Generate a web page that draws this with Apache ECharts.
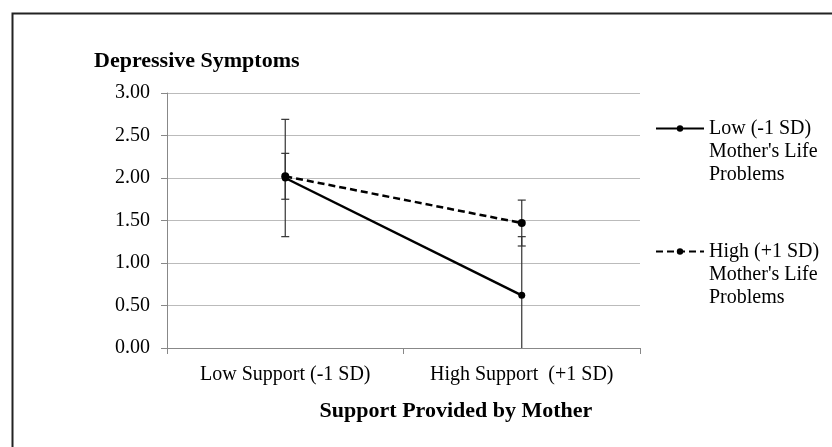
<!DOCTYPE html>
<html>
<head>
<meta charset="utf-8">
<script src="https://cdn.jsdelivr.net/npm/echarts@6/dist/echarts.min.js"></script>
<style>
html,body{margin:0;padding:0;background:#fff;}
#chart{width:832px;height:447px;}
</style>
</head>
<body>
<div id="chart"></div>
<script>
// ---- data ----
const categories = ['Low Support (-1 SD)', 'High Support  (+1 SD)'];
const seriesNames = ["Low (-1 SD)\nMother's Life\nProblems", "High (+1 SD)\nMother's Life\nProblems"];
const lowProblems = [2.00, 0.62];
const highProblems = [2.02, 1.47];
const lowProblemsErr = [0.69, 0.69];
const highProblemsErr = [0.27, 0.27];
const yTicks = [0, 0.5, 1, 1.5, 2, 2.5, 3];

const FONT = '"Liberation Serif", "Times New Roman", serif';

function errData(vals, errs) {
  return vals.map((v, i) => [i, v - errs[i], v + errs[i]]);
}

function errRender(params, api) {
  const xi = api.value(0);
  const lo = Math.max(api.value(1), yTicks[0]);
  const hi = api.value(2);
  const pLo = api.coord([xi, lo]);
  const pHi = api.coord([xi, hi]);
  const half = 4;
  const style = { stroke: '#333', lineWidth: 1.2 };
  const children = [
    { type: 'line', shape: { x1: pHi[0], y1: pHi[1], x2: pLo[0], y2: pLo[1] }, style },
    { type: 'line', shape: { x1: pHi[0] - half, y1: pHi[1], x2: pHi[0] + half, y2: pHi[1] }, style }
  ];
  if (api.value(1) >= yTicks[0]) {
    children.push({ type: 'line', shape: { x1: pLo[0] - half, y1: pLo[1], x2: pLo[0] + half, y2: pLo[1] }, style });
  }
  return { type: 'group', children };
}

const chart = echarts.init(document.getElementById('chart'));
chart.setOption({
  animation: false,
  backgroundColor: '#fff',
  textStyle: { fontFamily: FONT, color: '#000' },
  title: {
    text: 'Depressive Symptoms',
    left: 94, top: 50,
    padding: 0,
    textStyle: { fontFamily: FONT, fontWeight: 'bold', fontSize: 22, color: '#000', lineHeight: 22 }
  },
  graphic: [{
    type: 'rect', left: 10, top: 11, silent: true,
    shape: { width: 840, height: 460 },
    style: { fill: 'none', stroke: '#222', lineWidth: 2 }
  }],
  legend: {
    orient: 'vertical',
    left: 655, top: 71,
    padding: 0,
    itemGap: 8,
    itemWidth: 48,
    itemHeight: 8,
    data: seriesNames,
    formatter: name => '\n\n' + name,
    textStyle: { fontFamily: FONT, fontSize: 20, color: '#000', lineHeight: 23 }
  },
  grid: { left: 167, right: 192, top: 93, bottom: 99, containLabel: false },
  xAxis: {
    type: 'category',
    data: categories,
    boundaryGap: true,
    name: 'Support Provided by Mother',
    nameLocation: 'middle',
    nameGap: 52,
    nameTextStyle: { fontFamily: FONT, fontWeight: 'bold', fontSize: 22, color: '#000', padding: [0, 0, 0, 105] },
    axisLine: { lineStyle: { color: '#888', width: 1 } },
    axisTick: { show: true, length: 6, inside: false, lineStyle: { color: '#888' } },
    axisLabel: { fontFamily: FONT, fontSize: 20, color: '#000', margin: 17, interval: 0, hideOverlap: false },
    splitLine: { show: false }
  },
  yAxis: {
    type: 'value',
    min: 0, max: 3, interval: 0.5,
    axisLine: { show: true, lineStyle: { color: '#888', width: 1 } },
    axisTick: { show: true, length: 6, lineStyle: { color: '#888' } },
    axisLabel: { fontFamily: FONT, fontSize: 20, color: '#000', margin: 17, formatter: v => v.toFixed(2) },
    splitLine: { show: true, lineStyle: { color: '#bbb', width: 1 } }
  },
  series: [
    {
      name: seriesNames[0], type: 'line', data: lowProblems,
      symbol: 'circle', symbolSize: 7,
      itemStyle: { color: '#000' },
      lineStyle: { color: '#000', width: 2.5, type: 'solid' },
      z: 3
    },
    {
      name: seriesNames[1], type: 'line', data: highProblems,
      symbol: 'circle', symbolSize: 8,
      itemStyle: { color: '#000' },
      lineStyle: { color: '#000', width: 2.5, type: [7, 4] },
      z: 3
    },
    {
      type: 'custom', name: 'err-low', data: errData(lowProblems, lowProblemsErr),
      renderItem: errRender, encode: { x: 0, y: [1, 2] }, z: 2, silent: true
    },
    {
      type: 'custom', name: 'err-high', data: errData(highProblems, highProblemsErr),
      renderItem: errRender, encode: { x: 0, y: [1, 2] }, z: 2, silent: true
    }
  ]
});
</script>
</body>
</html>
